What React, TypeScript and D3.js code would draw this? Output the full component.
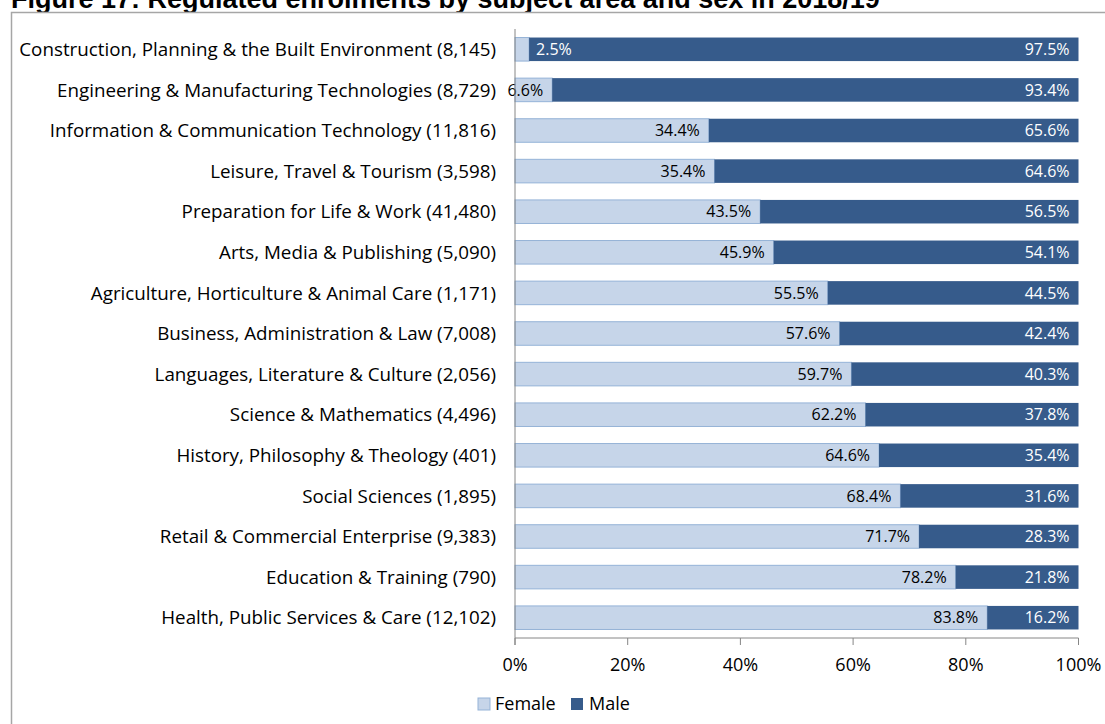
import React from "react";
import * as d3 from "d3";

const categories = [
  "Construction, Planning & the Built Environment (8,145)",
  "Engineering & Manufacturing Technologies (8,729)",
  "Information & Communication Technology (11,816)",
  "Leisure, Travel & Tourism (3,598)",
  "Preparation for Life & Work (41,480)",
  "Arts, Media & Publishing (5,090)",
  "Agriculture, Horticulture & Animal Care (1,171)",
  "Business, Administration & Law (7,008)",
  "Languages, Literature & Culture (2,056)",
  "Science & Mathematics (4,496)",
  "History, Philosophy & Theology (401)",
  "Social Sciences (1,895)",
  "Retail & Commercial Enterprise (9,383)",
  "Education & Training (790)",
  "Health, Public Services & Care (12,102)",
];
const female = [2.5, 6.6, 34.4, 35.4, 43.5, 45.9, 55.5, 57.6, 59.7, 62.2, 64.6, 68.4, 71.7, 78.2, 83.8];
const male = [97.5, 93.4, 65.6, 64.6, 56.5, 54.1, 44.5, 42.4, 40.3, 37.8, 35.4, 31.6, 28.3, 21.8, 16.2];
const ticks = [0, 20, 40, 60, 80, 100];
const seriesNames = ["Female", "Male"];
const title = "Figure 17: Regulated enrolments by subject area and sex in 2018/19";

const W = 1105;
const H = 724;
const FEMALE_FILL = "#c6d5e9";
const FEMALE_STROKE = "#95b3d7";
const MALE_FILL = "#365b8b";
const FONT = "'Open Sans', Lato, sans-serif";

export default function App() {
  const x = d3.scaleLinear().domain([0, 100]).range([515, 1078.5]);
  const y = d3.scaleBand().domain(categories).range([29, 638]).paddingInner(0.42).paddingOuter(0.21);
  const bh = y.bandwidth();
  const legendCx = 555;

  return (
    <svg width={W} height={H} style={{ position: "absolute", left: 0, top: 0, background: "#fff" }}>
      <text x={11} y={7.5} fontFamily="'Liberation Sans', Arial, sans-serif" fontWeight="bold" fontSize={27} fill="#000">
        {title}
      </text>
      <rect x={11.5} y={12.5} width={1110} height={730} fill="#fff" stroke="#a6a6a6" strokeWidth={1.5} />

      {categories.map((c, i) => {
        const yy = y(c)!;
        const xf = x(female[i]);
        const first = i === 0;
        return (
          <g key={c}>
            <text x={496} y={yy + bh / 2} dy="0.36em" textAnchor="end" fontFamily={FONT} fontSize={18.8} fill="#000">
              {c}
            </text>
            <rect x={x(0)} y={yy} width={xf - x(0)} height={bh} fill={FEMALE_FILL} stroke={FEMALE_STROKE} strokeWidth={1} />
            <rect x={xf} y={yy} width={x(100) - xf} height={bh} fill={MALE_FILL} />
            {first ? (
              <text x={xf + 7} y={yy + bh / 2} dy="0.36em" textAnchor="start" fontFamily={FONT} fontSize={16} fill="#fff">
                {female[i].toFixed(1) + "%"}
              </text>
            ) : (
              <text x={xf - 9} y={yy + bh / 2} dy="0.36em" textAnchor="end" fontFamily={FONT} fontSize={16} fill="#000">
                {female[i].toFixed(1) + "%"}
              </text>
            )}
            <text x={x(100) - 9} y={yy + bh / 2} dy="0.36em" textAnchor="end" fontFamily={FONT} fontSize={16} fill="#fff">
              {male[i].toFixed(1) + "%"}
            </text>
          </g>
        );
      })}

      <line x1={x(0)} x2={x(0)} y1={29} y2={645} stroke="#868686" strokeWidth={1} />
      <line x1={x(0)} x2={x(100)} y1={638} y2={638} stroke="#868686" strokeWidth={1} />
      {ticks.map((t) => (
        <g key={t}>
          <line x1={x(t)} x2={x(t)} y1={638} y2={645} stroke="#868686" strokeWidth={1} />
          <text x={x(t)} y={665} dy="0.36em" textAnchor="middle" fontFamily={FONT} fontSize={18} fill="#000">
            {t + "%"}
          </text>
        </g>
      ))}

      <g>
        <rect x={legendCx - 77} y={698} width={12} height={12} fill={FEMALE_FILL} stroke={FEMALE_STROKE} />
        <text x={legendCx - 60} y={704} dy="0.36em" fontFamily={FONT} fontSize={18} fill="#000">
          {seriesNames[0]}
        </text>
        <rect x={legendCx + 16} y={698} width={12} height={12} fill={MALE_FILL} />
        <text x={legendCx + 34} y={704} dy="0.36em" fontFamily={FONT} fontSize={18} fill="#000">
          {seriesNames[1]}
        </text>
      </g>
    </svg>
  );
}
